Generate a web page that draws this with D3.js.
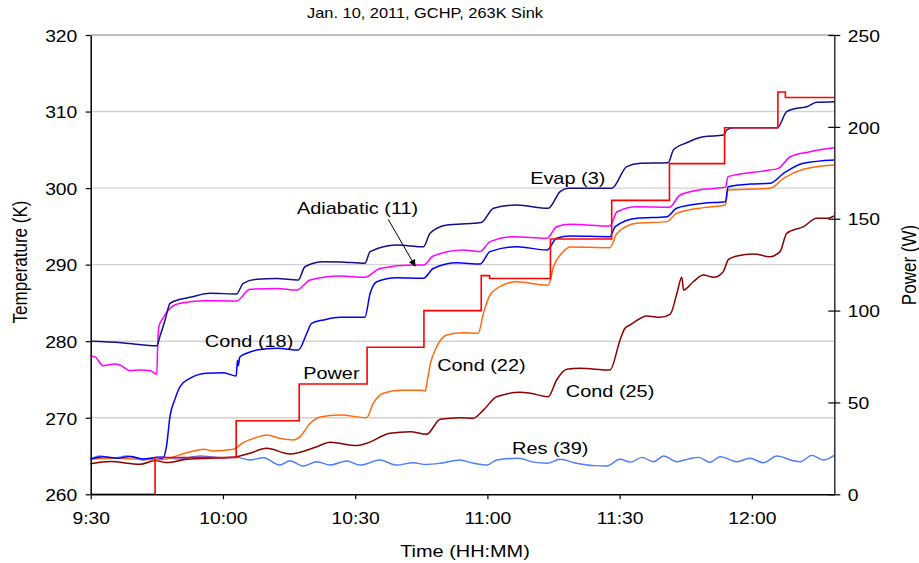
<!DOCTYPE html>
<html><head><meta charset="utf-8">
<script src="https://cdn.jsdelivr.net/npm/d3@7"></script>
<style>
body{margin:0;background:#fff}
svg{display:block}
text{font-family:"Liberation Sans",Arial,sans-serif;fill:#000}
</style>
</head><body><svg id="c" width="919" height="563"></svg>
<script>
// ---------- data (time in minutes after 9:30) ----------
const chartTitle = "Jan. 10, 2011, GCHP, 263K Sink";
const xTickMinutes = [0, 30, 60, 90, 120, 150];
const xTickLabels = ["9:30", "10:00", "10:30", "11:00", "11:30", "12:00"];
const tempTicks = [260, 270, 280, 290, 300, 310, 320];
const powerTicks = [0, 50, 100, 150, 200, 250];

const evapMin = [0,7,12,15.0,15.7,16.9,18.0,20.3,22.5,27.1,33.1,34.6,37.7,42.2,47.1,48.6,52.8,56.6,62.2,63.4,69.4,75.5,77.0,80.8,86.8,88.6,91.4,96.7,103.8,106.5,108.4,118.2,121.6,124.7,131.0,132.2,135.2,139.0,143.6,144.3,145.8,155.8,157.9,160.2,162.5,164.7,168.7];
const evapK   = [280.0,279.8,279.5,279.4,280.6,282.8,284.95,285.47,285.73,286.26,286.17,287.56,288.1,288.2,288.0,289.73,290.38,290.35,290.18,291.7,292.56,292.34,294.09,295.18,295.4,295.5,297.36,297.79,297.36,299.53,299.97,299.97,302.8,303.24,303.3,304.97,305.93,306.71,306.93,307.59,307.89,307.89,309.98,310.42,310.63,311.2,311.29];

const adiaMin = [0,1.0,2.8,5.5,6.6,8.9,11.2,13.5,15.0,15.2,15.5,16.4,18.0,20.3,25.6,33.1,36.1,42.2,46.7,49.8,56.6,62.2,65.6,73.2,75.5,77.7,84.5,88.3,90.6,95.9,103.5,105.7,108.8,117.8,119.4,123.9,131.3,133.7,139.0,144.0,144.6,154.1,156.0,158.7,163.2,168.7];
const adiaK   = [278.07,277.95,276.8,277.02,276.9,276.15,276.24,276.15,275.7,279.5,282.0,283.0,284.3,284.95,285.3,285.25,286.78,286.9,286.68,288.0,288.52,288.35,289.5,289.95,289.95,291.13,291.91,291.7,293.0,293.65,293.44,294.96,295.27,295.05,296.91,297.57,297.5,299.1,299.84,300.1,301.5,302.36,302.58,304.1,304.76,305.28];

const cond18Min = [0,3,6,9,12,15,16.3,17.2,18.0,19.1,20.3,22.5,26.3,30.1,33.0,33.3,33.5,33.8,35.4,37.7,42.2,47.1,49.0,50.1,52.8,56.6,62.2,63.4,64.9,69.4,75.5,77.7,83.1,88.3,90.6,96.7,103.5,105.7,108.8,117.8,119.0,123.9,130.7,132.9,139.0,144.0,144.6,149.6,154.1,157.2,161.7,168.7];
const cond18K   = [264.6,264.9,264.7,264.95,264.6,264.8,264.7,266.3,270.2,272.4,274.1,275.15,275.8,275.89,275.45,277.5,276.8,277.9,278.42,278.85,279.07,278.85,281.0,282.34,282.77,283.12,283.12,286.26,287.77,288.3,288.21,289.5,290.25,290.08,291.7,292.34,291.91,293.44,293.74,293.65,294.96,296.05,296.27,297.36,298.01,298.22,300.18,300.53,300.62,301.93,303.24,303.67];

const cond22Min = [0,6,12,15.9,21.4,25.7,27.8,32.3,34.6,37.7,39.9,42.9,46.0,47.5,49.8,52.0,56.6,62.6,64.1,66.4,70.2,74.7,75.9,76.2,77.0,78.5,80.8,84.5,87.9,89.1,90.6,93.6,96.7,102.7,103.8,105.0,107.2,108.8,117.8,119.4,123.9,130.7,132.9,139.0,144.0,144.6,154.1,157.2,161.7,168.7];
const cond22K   = [264.6,264.7,264.55,264.5,265.36,265.88,265.66,265.88,266.74,267.45,267.75,267.31,267.1,267.53,269.27,270.1,270.36,270.0,271.89,273.2,273.6,273.6,273.5,274.28,276.9,279.28,280.81,281.11,281.03,283.64,286.04,287.34,287.77,287.34,287.3,289.73,291.7,292.3,292.22,294.09,295.4,295.62,296.7,297.45,297.79,299.75,299.97,301.28,302.45,303.02];

const cond25Min = [0,4.4,11.2,14.6,17.2,21.8,32.3,36.1,39.9,45.2,51.3,54.3,60.4,62.6,67.9,72.5,76.2,79.3,83.8,86.8,89.1,92.1,97.4,99.7,103.8,105.7,108.0,111.0,117.8,120.1,121.2,122.4,126.2,129.2,131.5,133.0,134.1,134.5,136.7,139.0,141.3,143.5,144.7,146.6,150.4,154.1,156.4,157.9,161.7,164.7,167.0,168.7];
const cond25K   = [264.0,264.27,263.92,264.4,264.14,264.57,264.83,265.36,266.0,265.27,266.22,266.8,266.36,266.67,267.97,268.18,267.84,269.8,270.0,269.93,271.0,272.75,273.32,273.2,272.75,274.93,276.33,276.46,276.24,280.16,281.69,282.12,283.29,283.12,283.55,286.26,288.35,286.68,287.77,288.65,288.35,289.08,290.7,291.13,291.39,291.04,291.7,294.09,294.96,296.05,296.05,296.35];

const resMin = [0,2.1,5.0,8.2,11.9,15.7,20.0,24.8,30.1,33.1,36.1,39.2,42.9,45.2,48.2,51.3,54.3,58.1,61.1,65.6,69.4,73.2,76.0,79.3,83.8,86.5,89.9,92.1,97.0,100.5,103.5,106.5,109.9,114.2,117.1,120.1,122.5,125.0,127.7,130.0,133.0,135.5,137.9,140.5,142.8,146.6,149.5,152.6,155.7,159.4,161.0,163.6,166.2,168.7];
const resK   = [264.6,265.0,264.7,265.0,264.48,264.91,264.6,265.0,264.78,264.83,264.48,264.78,263.82,264.39,263.69,264.26,263.82,264.35,263.82,264.48,263.82,264.13,263.9,264.05,264.48,264.1,263.82,264.48,264.7,264.2,264.05,264.57,264.09,263.74,263.7,264.57,264.2,264.83,264.26,265.0,264.26,264.6,264.83,264.18,264.91,264.26,264.7,264.13,265.0,264.39,264.26,265.09,264.48,265.09];

const powerMin = [0,14.6,33.0,47.3,62.7,75.6,88.6,90.5,104.3,118.2,131.3,143.8,155.9,157.6,168.7];
const powerW   = [0,20,40,60,80,100,119,117.5,139,160,180,199.5,219,216,216];

const seriesLabels = ["Evap (3)","Adiabatic (11)","Cond (18)","Power","Cond (22)","Cond (25)","Res (39)"];
const labelMin = [99.7, 46.8, 25.9, 48.2, 78.6, 107.8, 95.6];
const labelK   = [300.6, 296.68, 279.24, 275.06, 276.1, 272.71, 265.26];
const arrowMin = [67.5, 73.6];
const arrowK   = [295.92, 289.82];

// ---------- layout ----------
const W = 919, H = 563;
const L = 90.7, R = 834.3, T = 35, B = 494.3;
const SX = 1.17; // horizontal stretch of text in the original picture

const svg = d3.select("#c");
const x = d3.scaleLinear().domain([0, 168.7]).range([L, R]);
const yT = d3.scaleLinear().domain([260, 320]).range([B, T]);
const yP = d3.scaleLinear().domain([0, 250]).range([B, T]);

// gridlines
svg.append("g").selectAll("line").data(tempTicks.filter(v => v > 260 && v < 320)).join("line")
  .attr("x1", L).attr("x2", R).attr("y1", d => yT(d)).attr("y2", d => yT(d))
  .attr("stroke", "#d2d2d2").attr("stroke-width", 1.4);
// top border
svg.append("line").attr("x1", L).attr("x2", R).attr("y1", yT(320)).attr("y2", yT(320))
  .attr("stroke", "#808080").attr("stroke-width", 1.2);

// series
const zip = (a, b) => a.map((v, i) => [v, b[i]]);
const tLine = d3.line().x(d => x(d[0])).y(d => yT(d[1])).curve(d3.curveMonotoneX);
const series = [
  [resMin, resK, "#4d7cff", 1.4],
  [cond25Min, cond25K, "#8b0000", 1.5],
  [cond22Min, cond22K, "#ff6a10", 1.5],
  [cond18Min, cond18K, "#0000ff", 1.5],
  [adiaMin, adiaK, "#ff00ff", 1.5],
  [evapMin, evapK, "#10108a", 1.5]
];
const sg = svg.append("g");
series.forEach(s => {
  sg.append("path").datum(zip(s[0], s[1])).attr("d", tLine)
    .attr("fill", "none").attr("stroke", s[2]).attr("stroke-width", s[3])
    .attr("stroke-linejoin", "round");
});
const pLine = d3.line().x(d => x(d[0])).y(d => yP(d[1])).curve(d3.curveStepAfter);
sg.append("path").datum(zip(powerMin, powerW)).attr("d", pLine)
  .attr("fill", "none").attr("stroke", "#ff0000").attr("stroke-width", 1.6);

// axes
function stretchTicks(g, anchor) {
  g.selectAll(".tick text").each(function () {
    const t = d3.select(this);
    const xx = +t.attr("x") || 0;
    t.attr("x", xx / SX).attr("transform", `scale(${SX},1)`);
  });
}
const fs = 16.5;
const ax = svg.append("g").attr("transform", `translate(0,${B})`)
  .call(d3.axisBottom(x).tickValues(xTickMinutes).tickFormat((d, i) => xTickLabels[i])
    .tickSize(5).tickSizeOuter(0).tickPadding(13));
ax.selectAll("text").attr("font-size", fs).attr("font-family", '"Liberation Sans",Arial,sans-serif');
stretchTicks(ax);

const ayl = svg.append("g").attr("transform", `translate(${L},0)`)
  .call(d3.axisLeft(yT).tickValues(tempTicks).tickSize(5).tickSizeOuter(0).tickPadding(8.4));
ayl.selectAll("text").attr("font-size", fs).attr("dy", "0.38em").attr("font-family", '"Liberation Sans",Arial,sans-serif');
stretchTicks(ayl);

const ayr = svg.append("g").attr("transform", `translate(${R},0)`)
  .call(d3.axisRight(yP).tickValues(powerTicks).tickSize(6).tickSizeOuter(0).tickPadding(7.4));
ayr.selectAll(".tick line").attr("x1", -6);
ayr.selectAll("text").attr("font-size", fs).attr("dy", "0.38em").attr("font-family", '"Liberation Sans",Arial,sans-serif');
stretchTicks(ayr);

[ax, ayl, ayr].forEach(g => {
  g.select(".domain").attr("stroke", "#000").attr("stroke-width", 1.5);
  g.selectAll(".tick line").attr("stroke", "#000").attr("stroke-width", 1.2);
});
ayr.select(".domain").attr("stroke", "#333");

// texts
function label(str, px, py, size, anchor, rot) {
  const tr = `translate(${px},${py}) scale(${SX},1)` + (rot ? ` rotate(${rot})` : "");
  return svg.append("text").attr("transform", tr).attr("font-size", size)
    .attr("text-anchor", anchor || "start").text(str);
}
label(chartTitle, 425, 17.5, 14, "middle");
label("Time (HH:MM)", 465, 557, 17, "middle");
label("Temperature (K)", 26.5, 262, 17, "middle", -90);
label("Power (W)", 916, 265, 17, "middle", -90);

seriesLabels.forEach((s, i) => label(s, x(labelMin[i]), yT(labelK[i]), 17, "start"));

// arrow
const defs = svg.append("defs");
defs.append("marker").attr("id", "ah").attr("viewBox", "0 0 10 10").attr("refX", 9).attr("refY", 5)
  .attr("markerWidth", 7).attr("markerHeight", 7).attr("orient", "auto-start-reverse")
  .append("path").attr("d", "M0,0 L10,5 L0,10 z").attr("fill", "#000");
svg.append("line")
  .attr("x1", x(arrowMin[0])).attr("y1", yT(arrowK[0]))
  .attr("x2", x(arrowMin[1])).attr("y2", yT(arrowK[1]))
  .attr("stroke", "#000").attr("stroke-width", 1).attr("marker-end", "url(#ah)");
</script>
</body></html>
